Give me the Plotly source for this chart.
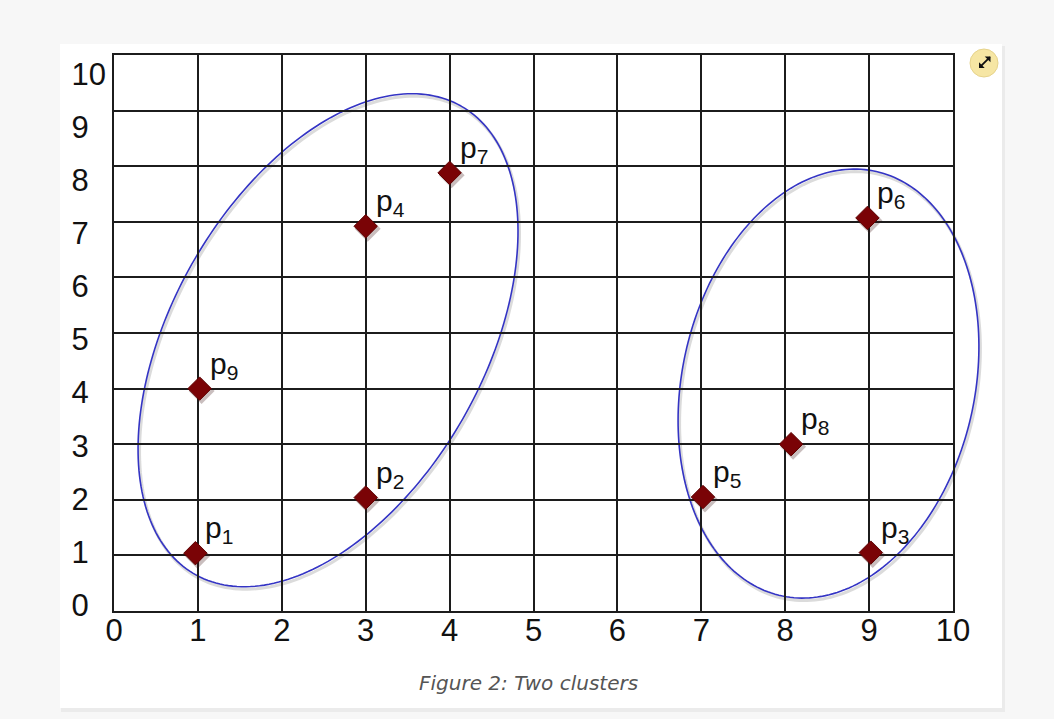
import numpy as np
import plotly.graph_objects as go

# ---- data -------------------------------------------------------------
point_names = ["1", "2", "3", "4", "5", "6", "7", "8", "9"]
point_x = [0.97, 3.0, 9.02, 3.0, 7.02, 8.98, 4.0, 8.07, 1.02]
point_y = [1.04, 2.04, 1.05, 6.92, 2.05, 7.07, 7.88, 3.0, 4.0]
tick_values = list(range(0, 11))
tick_labels = [str(v) for v in tick_values]
caption_text = "Figure 2: Two clusters"

# ---- page geometry (pixels) ------------------------------------------
W, H = 1054, 719
M_L, M_R, M_T, M_B = 114, 101, 55, 108
PLOT_W = W - M_L - M_R
PLOT_H = H - M_T - M_B
UX, UY = PLOT_W / 10.0, PLOT_H / 10.0


def px_to_paper(px, py):
    return (px - M_L) / PLOT_W, (H - M_B - py) / PLOT_H


def ellipse_path(cx, cy, a, b, ang_deg, off_x=0.0, off_y=0.0, n=240):
    """Rotated ellipse: centre in data units, semi-axes in screen pixels."""
    t = np.linspace(0, 2 * np.pi, n)
    th = np.radians(ang_deg)
    dx = a * np.cos(t) * np.cos(th) - b * np.sin(t) * np.sin(th) + off_x
    dy = a * np.cos(t) * np.sin(th) + b * np.sin(t) * np.cos(th) + off_y
    xs = cx / 10.0 + dx / PLOT_W
    ys = cy / 10.0 + dy / PLOT_H
    pts = [f"{x:.5f},{y:.5f}" for x, y in zip(xs, ys)]
    return "M " + " L ".join(pts) + " Z"


clusters = [
    dict(cx=2.551, cy=4.87, a=269.3, b=156.0, ang=60.4),
    dict(cx=8.516, cy=4.09, a=217.4, b=146.2, ang=77.3),
]

GRID = "#1c1c1c"
MARK = "#7a0306"
BLUE = "#3434c4"
TICK_FONT = dict(family="Liberation Sans, Arial", size=31, color="#111111")

fig = go.Figure()

# soft drop shadow under the diamonds
fig.add_trace(go.Scatter(
    x=[v + 2.0 / UX for v in point_x],
    y=[v - 2.5 / UY for v in point_y],
    mode="markers",
    marker=dict(symbol="diamond", size=20, color="rgba(60,20,20,0.28)",
                line=dict(width=0)),
    hoverinfo="skip", showlegend=False,
))

fig.add_trace(go.Scatter(
    x=point_x, y=point_y, mode="markers",
    marker=dict(symbol="diamond", size=18, color=MARK,
                line=dict(color="#5e0000", width=1)),
    hoverinfo="skip", showlegend=False,
))

# invisible trace that carries the left-hand label axis
fig.add_trace(go.Scatter(x=[None], y=[None], yaxis="y2", mode="markers",
                         hoverinfo="skip", showlegend=False))

shapes = []
# card background and its faint shadow
c0 = px_to_paper(60, 44)
c1 = px_to_paper(1002, 708)
s0 = px_to_paper(61, 46)
s1 = px_to_paper(1005, 712)
shapes.append(dict(type="rect", xref="paper", yref="paper", layer="below",
                   x0=s0[0], y0=s1[1], x1=s1[0], y1=s0[1],
                   fillcolor="#ebebeb", line=dict(width=0)))
shapes.append(dict(type="rect", xref="paper", yref="paper", layer="below",
                   x0=c0[0], y0=c1[1], x1=c1[0], y1=c0[1],
                   fillcolor="white", line=dict(width=0)))

# cluster outlines with a light shadow
for c in clusters:
    shapes.append(dict(type="path", xref="paper", yref="paper", layer="between",
                       path=ellipse_path(c["cx"], c["cy"], c["a"], c["b"], c["ang"],
                                         off_x=1.5, off_y=-2.5),
                       line=dict(color="rgba(90,90,90,0.22)", width=3)))
    shapes.append(dict(type="path", xref="paper", yref="paper", layer="between",
                       path=ellipse_path(c["cx"], c["cy"], c["a"], c["b"], c["ang"]),
                       line=dict(color=BLUE, width=1.6)))

# expand button in the card corner
b0 = px_to_paper(970, 49)
b1 = px_to_paper(998, 77)
shapes.append(dict(type="circle", xref="paper", yref="paper", layer="above",
                   x0=b0[0], y0=b1[1], x1=b1[0], y1=b0[1],
                   fillcolor="#f6e6a4", line=dict(color="#e6d38c", width=1)))

annotations = []
for name, x, y in zip(point_names, point_x, point_y):
    annotations.append(dict(
        x=x, y=y, xref="x", yref="y", text=f"p<sub>{name}</sub>",
        showarrow=False, xanchor="left", yanchor="bottom",
        xshift=8, yshift=3,
        font=dict(family="Liberation Sans, Arial", size=30, color="#111111"),
    ))

ah = px_to_paper(990.5, 56.5)
annotations.append(dict(
    x=ah[0], y=ah[1], xref="paper", yref="paper", text="",
    showarrow=True, arrowhead=1, arrowside="end+start", arrowsize=0.75,
    arrowwidth=1.8, arrowcolor="#111111",
    ax=-13, ay=13, axref="pixel", ayref="pixel", standoff=0, startstandoff=0,
))

cap = px_to_paper(528, 683)
annotations.append(dict(
    x=cap[0], y=cap[1], xref="paper", yref="paper", text=caption_text,
    showarrow=False, xanchor="center", yanchor="middle",
    font=dict(family="DejaVu Sans, sans-serif", size=20, color="#555555",
              style="italic"),
))

grid_axis = dict(
    range=[0, 10], tickmode="array", tickvals=tick_values,
    showgrid=True, gridcolor=GRID, gridwidth=2,
    showline=True, linecolor=GRID, linewidth=2, mirror=True,
    zeroline=False, ticks="", fixedrange=True,
)

# single digits are padded so every label starts at the same left edge
y_labels = [t if len(t) > 1 else t + "\u2007" for t in tick_labels]

fig.update_layout(
    width=W, height=H,
    margin=dict(l=M_L, r=M_R, t=M_T, b=M_B, pad=0),
    paper_bgcolor="#f7f7f7",
    plot_bgcolor="rgba(0,0,0,0)",
    xaxis=dict(grid_axis, ticktext=tick_labels, tickfont=TICK_FONT,
               ticklabelstandoff=-9),
    yaxis=dict(grid_axis, showticklabels=False),
    yaxis2=dict(overlaying="y", side="left", range=[-0.113, 10.358],
                tickmode="array", tickvals=tick_values, ticktext=y_labels,
                tickfont=TICK_FONT, showgrid=False, zeroline=False,
                showline=False, ticks="", ticklabelstandoff=7,
                fixedrange=True),
    shapes=shapes,
    annotations=annotations,
    showlegend=False,
)

fig.write_html("out.html", config={"displayModeBar": False})
